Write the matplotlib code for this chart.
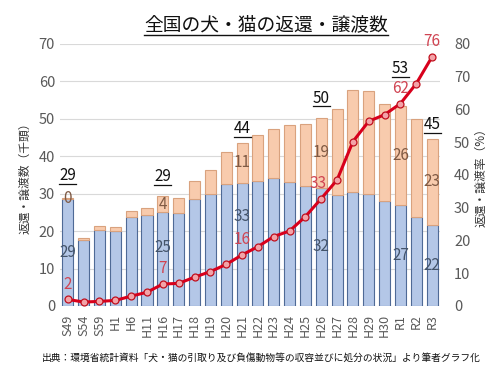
import numpy as np
import matplotlib
matplotlib.use("Agg")
import matplotlib.pyplot as plt
from matplotlib.lines import Line2D

plt.rcParams['font.family'] = ['Noto Sans CJK JP', 'DejaVu Sans']

# data (thousand heads / percent)
years = ['S49', 'S54', 'S59', 'H1', 'H6', 'H11', 'H16', 'H17', 'H18', 'H19', 'H20', 'H21',
         'H22', 'H23', 'H24', 'H25', 'H26', 'H27', 'H28', 'H29', 'H30', 'R1', 'R2', 'R3']
returned = [28.7, 17.7, 20.2, 19.9, 23.9, 24.4, 25.1, 24.8, 28.7, 29.8, 32.6, 32.9,
            33.5, 34.2, 33.2, 32.0, 31.6, 29.6, 30.5, 29.9, 28.0, 26.9, 23.9, 21.6]
transferred = [0.2, 0.5, 1.1, 1.3, 1.6, 1.7, 4.2, 4.1, 4.8, 6.4, 8.6, 10.7,
               12.1, 13.0, 15.1, 16.5, 18.7, 23.1, 27.1, 27.5, 25.9, 26.4, 26.0, 23.1]
rate = [2.0, 1.2, 1.4, 1.7, 3.0, 4.2, 6.7, 6.9, 8.8, 10.5, 12.7, 15.6,
        18.1, 21.2, 22.9, 27.3, 32.8, 38.5, 50.2, 56.4, 58.4, 61.8, 67.9, 76.1]
labeled = [0, 6, 11, 16, 21, 23]

blue = '#B4C7E7'
blue_edge = '#4F6A96'
orange = '#F8CBAD'
orange_edge = '#D9A27E'
red = '#D8001C'
grey = '#595959'

x = np.arange(len(years))
total = np.array(returned) + np.array(transferred)

fig = plt.figure(figsize=(4.95, 3.82), dpi=100)
ax = fig.add_axes([0.121, 0.199, 0.768, 0.686])
ax2 = ax.twinx()

ax.bar(x, returned, width=0.7, color=blue, edgecolor=blue_edge, linewidth=0.8, zorder=2)
ax.bar(x, transferred, width=0.7, bottom=returned, color=orange, edgecolor=orange_edge,
       linewidth=0.8, zorder=2)
ax2.plot(x, rate, color=red, lw=2.2, marker='o', ms=5, mfc='#F3A3A8', mec='#C0101E',
         mew=0.9, zorder=3)

ax.set_xlim(-0.5, 23.5)
ax.set_ylim(0, 70)
ax2.set_ylim(0, 80)
ax.set_yticks(range(0, 71, 10))
ax2.set_yticks(range(0, 81, 10))
ax.grid(axis='y', color='#D9D9D9', lw=0.8, zorder=0)
ax.set_axisbelow(True)
for a in (ax, ax2):
    for s in a.spines.values():
        s.set_visible(False)
    a.tick_params(length=0, colors=grey, labelsize=10.5)
ax.set_xticks(x)
ax.set_xticklabels(years, rotation=90, fontsize=9, color=grey)
ax.tick_params(axis='x', pad=6)
ax2.tick_params(axis='y', pad=10)

ax.set_ylabel('返還・譲渡数（千頭）', fontsize=8.5, color='#333333', labelpad=5)
ax2.set_ylabel('返還・譲渡率（%）', fontsize=8.5, color='#333333', rotation=90, labelpad=3)

# value labels
blue_lab_y = {6: 15.7, 11: 23.8}
total_off = {0: 16, 6: 14, 11: 10, 16: 14, 21: 27, 23: 10}
tot_texts = []
for i in labeled:
    by = blue_lab_y.get(i, returned[i] / 2)
    ax.text(x[i], by, f'{returned[i]:.0f}', ha='center', va='center', fontsize=11,
            color='#44546A', zorder=4)
    ax.text(x[i], returned[i] + transferred[i] / 2, f'{transferred[i]:.0f}', ha='center',
            va='center', fontsize=11, color='#7F5A44', zorder=4)
    t = ax.annotate(f'{total[i]:.0f}', (x[i], total[i]), xytext=(0, total_off[i]),
                    textcoords='offset points', ha='center', va='center', fontsize=11,
                    color='#111111', zorder=4)
    tot_texts.append(t)
    ax2.annotate(f'{rate[i]:.0f}', (x[i], rate[i]), xytext=(-2 if i == 16 else 0, 11),
                 textcoords='offset points', ha='center', va='center', fontsize=11,
                 color='#D04452', zorder=4)

title = fig.text(0.537, 0.935, '全国の犬・猫の返還・譲渡数', ha='center', va='center',
                 fontsize=13.5, color='#111111')
fig.text(0.527, 0.063, '出典：環境省統計資料「犬・猫の引取り及び負傷動物等の収容並びに処分の状況」より筆者グラフ化',
         ha='center', va='center', fontsize=7.0, color='#111111')

# underline titles and totals
fig.canvas.draw()
r = fig.canvas.get_renderer()
W, H = fig.bbox.width, fig.bbox.height
for t, lw in [(title, 1.0)] + [(t, 0.9) for t in tot_texts]:
    bb = t.get_window_extent(r)
    y = bb.y0 + 0.5
    fig.add_artist(Line2D([bb.x0 / W, bb.x1 / W], [y / H, y / H], color='#111111', lw=lw,
                          transform=fig.transFigure))

fig.savefig('out.png', dpi=100)
